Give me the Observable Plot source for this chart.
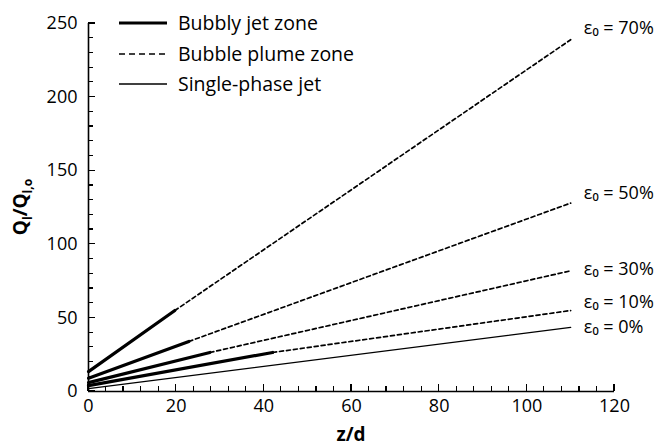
<!DOCTYPE html>
<html>
<head>
<meta charset="utf-8">
<script src="https://cdn.jsdelivr.net/npm/d3@7"></script>
<script src="https://cdn.jsdelivr.net/npm/@observablehq/plot@0.6"></script>
<style>
  html, body { margin: 0; padding: 0; background: #fff; overflow: hidden; }
  svg { display: block; }
</style>
</head>
<body>
<div id="chart"></div>
<script>
// ---- data ----
const voidFractions = ["10%", "30%", "50%", "70%"];
const jetStartQ = [4, 6, 9, 13.5];        // Q/Q0 at z/d = 0
const jetEndZ   = [42, 27.7, 22.9, 19.7]; // end of bubbly jet zone
const jetEndQ   = [26.5, 26.5, 34, 55];
const plumeEndZ = [110, 110, 110, 110];
const plumeEndQ = [55, 82, 128, 239];

const singlePhaseZ = [0, 110];
const singlePhaseQ = [2, 43.5];

const annotationText = ["ε₀ = 70%", "ε₀ = 50%", "ε₀ = 30%", "ε₀ = 10%", "ε₀ = 0%"];
const annotationZ    = [113, 113, 113, 113, 113];
const annotationQ    = [246.5, 134.5, 83, 60.5, 43.5];

const legendLabels = ["Bubbly jet zone", "Bubble plume zone", "Single-phase jet"];

const xTicks = [0, 20, 40, 60, 80, 100, 120];
const xMinor = [0, 4, 8, 12, 16, 20, 24, 28, 32, 36, 40, 44, 48, 52, 56, 60, 64, 68, 72, 76, 80, 84, 88, 92, 96, 100, 104, 108, 112, 116, 120];
const yTicks = [0, 50, 100, 150, 200, 250];
const yMinor = [0, 10, 20, 30, 40, 50, 60, 70, 80, 90, 100, 110, 120, 130, 140, 150, 160, 170, 180, 190, 200, 210, 220, 230, 240, 250];

// ---- tables built from the arrays ----
const jetRows = [];
const plumeRows = [];
voidFractions.forEach((e, i) => {
  jetRows.push({eps: e, z: 0, q: jetStartQ[i]});
  jetRows.push({eps: e, z: jetEndZ[i], q: jetEndQ[i]});
  plumeRows.push({eps: e, z: jetEndZ[i], q: jetEndQ[i]});
  plumeRows.push({eps: e, z: plumeEndZ[i], q: plumeEndQ[i]});
});
const singleRows = singlePhaseZ.map((z, i) => ({z, q: singlePhaseQ[i]}));
const annRows = annotationText.map((t, i) => ({t, z: annotationZ[i], q: annotationQ[i]}));

const W = 659, H = 448;
const mL = 88, mR = 45, mT = 23, mB = 57;
const font = "'Open Sans', 'Liberation Sans', sans-serif";

const plot = Plot.plot({
  width: W, height: H,
  marginLeft: mL, marginRight: mR, marginTop: mT, marginBottom: mB,
  style: {fontFamily: font, fontSize: "18px", color: "#000", background: "#fff"},
  x: {domain: [0, 120]},
  y: {domain: [0, 250]},
  marks: [
    Plot.axisX({ticks: xTicks, tickSize: 0, tickPadding: 8, fontSize: 18, label: null, fill: "#000"}),
    Plot.axisY({ticks: yTicks, tickSize: 0, tickPadding: 11, fontSize: 18, label: null, fill: "#000"}),
    Plot.ruleY([0], {stroke: "#000", strokeWidth: 1.6}),
    Plot.ruleX([0], {stroke: "#000", strokeWidth: 1.6}),
    Plot.line(singleRows, {x: "z", y: "q", stroke: "#000", strokeWidth: 1.3}),
    Plot.line(plumeRows, {x: "z", y: "q", z: "eps", stroke: "#000", strokeWidth: 1.7, strokeDasharray: "4,3"}),
    Plot.line(jetRows, {x: "z", y: "q", z: "eps", stroke: "#000", strokeWidth: 3.2}),
    Plot.text(annRows, {x: "z", y: "q", text: "t", textAnchor: "start", fontSize: 18, fill: "#000"})
  ]
});

document.getElementById("chart").appendChild(plot);

const svg = d3.select(plot);
const sx = plot.scale("x"), sy = plot.scale("y");
const x0 = sx.apply(0), y0 = sy.apply(0);

// inward tick marks, positioned through Plot's scales
const tg = svg.append("g").attr("stroke", "#000").attr("stroke-width", 1.2).attr("shape-rendering", "crispEdges");
xMinor.forEach(v => {
  const len = xTicks.includes(v) ? 7 : 5;
  tg.append("line").attr("x1", sx.apply(v)).attr("x2", sx.apply(v)).attr("y1", y0).attr("y2", y0 - len);
});
yMinor.forEach(v => {
  const len = yTicks.includes(v) ? 7 : 5;
  tg.append("line").attr("y1", sy.apply(v)).attr("y2", sy.apply(v)).attr("x1", x0).attr("x2", x0 + len);
});

// y-axis title with subscripts
const yt = svg.append("text")
  .attr("transform", "translate(27,207) rotate(-90)")
  .attr("text-anchor", "middle")
  .attr("font-family", font)
  .attr("font-weight", "bold")
  .attr("font-size", 19)
  .attr("fill", "#000");
yt.append("tspan").text("Q");
yt.append("tspan").attr("font-size", 12).attr("dy", 5).text("l");
yt.append("tspan").attr("dy", -5).text("/Q");
yt.append("tspan").attr("font-size", 12).attr("dy", 5).text("l,o");

// x-axis title
svg.append("text")
  .attr("x", 351).attr("y", 441)
  .attr("text-anchor", "middle")
  .attr("font-family", font)
  .attr("font-weight", "bold")
  .attr("font-size", 19)
  .attr("fill", "#000")
  .text("z/d");

// legend
const legendStyles = [
  {w: 3.2, dash: null},
  {w: 1.6, dash: "6,4"},
  {w: 1.3, dash: null}
];
const legendY = [23, 54, 84];
const lg = svg.append("g");
legendLabels.forEach((lab, i) => {
  lg.append("line")
    .attr("x1", 119).attr("x2", 167)
    .attr("y1", legendY[i]).attr("y2", legendY[i])
    .attr("stroke", "#000")
    .attr("stroke-width", legendStyles[i].w)
    .attr("stroke-dasharray", legendStyles[i].dash);
  lg.append("text")
    .attr("x", 178).attr("y", legendY[i])
    .attr("dy", "0.35em")
    .attr("text-anchor", "start")
    .attr("font-family", font)
    .attr("font-size", 19.5)
    .attr("fill", "#000")
    .text(lab);
});
</script>
</body>
</html>
